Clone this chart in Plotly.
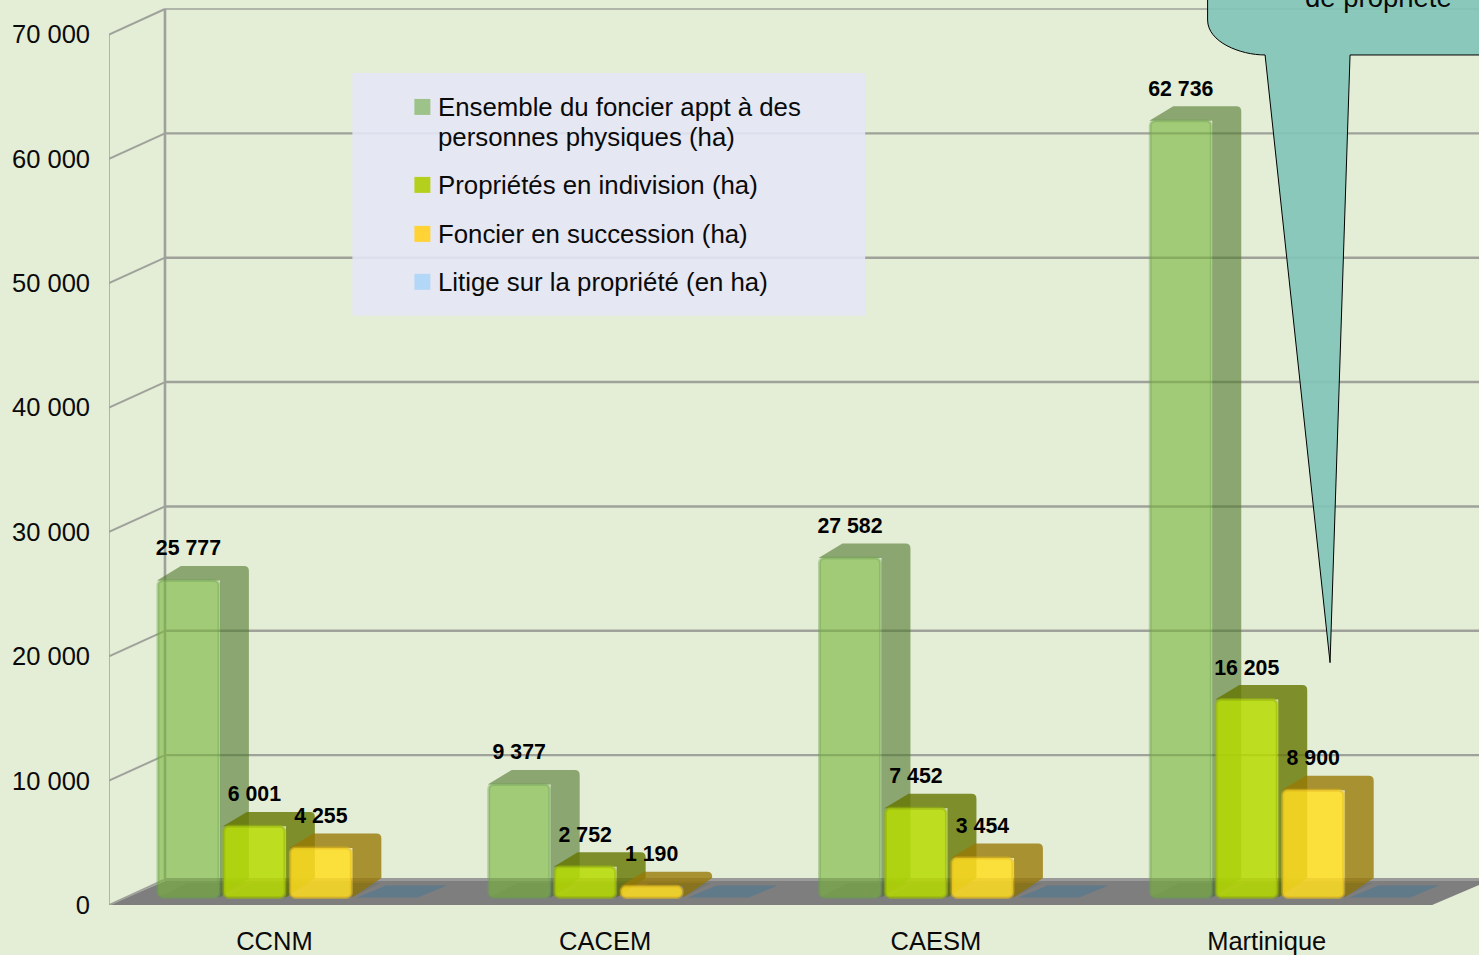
import plotly.graph_objects as go

# ---------- data ----------
categories = ["CCNM", "CACEM", "CAESM", "Martinique"]
series_names = [
    "Ensemble du foncier appt à des personnes physiques (ha)",
    "Propriétés en indivision (ha)",
    "Foncier en succession (ha)",
    "Litige sur la propriété (en ha)",
]
ensemble = [25777, 9377, 27582, 62736]
indivision = [6001, 2752, 7452, 16205]
succession = [4255, 1190, 3454, 8900]
litige = [0, 0, 0, 0]
y_ticks = [0, 10000, 20000, 30000, 40000, 50000, 60000, 70000]
all_series = [ensemble, indivision, succession, litige]

# ---------- styles ----------
FRONT = ["rgba(119,180,57,0.6)", "rgba(182,219,0,0.85)", "rgba(255,221,33,0.85)", "rgba(63,117,153,0.45)"]
EDGE = ["rgba(110,160,80,0.4)", "rgba(150,180,10,0.55)", "rgba(225,185,30,0.55)", "rgba(0,0,0,0)"]
SIDE = ["rgba(80,118,43,0.6)", "rgba(100,117,0,0.8)", "rgba(152,121,6,0.8)", "rgba(63,117,153,0.45)"]
SWATCH = ["#9dc28a", "#b5d01c", "#ffd235", "#b3d7f7"]
BG = "#e4edd6"
GRID = "#9fa29a"
FONT = "Liberation Sans"

# ---------- scale of the page (px per axis unit) ----------
W, H = 1479, 955
L, B = 108.5, 49.5
PX_X = 330.9                # px per category
PX_Y = 871 / 70000          # px per hectare
x_range = [-0.5, -0.5 + (W - L) / PX_X]
y_range = [0, (H - B) / PX_Y]

ux = lambda px: px / PX_X
uy = lambda px: px / PX_Y

WALL_DX, WALL_DY = ux(56), uy(25.5)    # depth of the floor
BAR_DX, BAR_DY = ux(29), uy(14.5)      # depth of a bar
INSET_Y = uy(7.5)                      # bar inset from floor front
BEVEL = uy(3.5)                        # the soft top bevel of the front face
BAR_W = ux(61)
SER_OFFS = [ux(-86), ux(-20), ux(46.5), ux(113)]


def poly(points, **kw):
    path = "M " + " L ".join(f"{x:.5f},{y:.2f}" for x, y in points) + " Z"
    return dict(type="path", xref="x", yref="y", path=path, line=dict(width=0), **kw)


def rounded_box(x0, x1, base, top, r_x, r_y):
    """Top face and side face as one outline, with a rounded back-top corner."""
    return (
        f"M {x0:.5f},{top:.2f} L {x0 + BAR_DX - r_x:.5f},{top + BAR_DY:.2f} "
        f"L {x1 + BAR_DX - r_x:.5f},{top + BAR_DY:.2f} "
        f"Q {x1 + BAR_DX:.5f},{top + BAR_DY:.2f} {x1 + BAR_DX:.5f},{top + BAR_DY - r_y:.2f} "
        f"L {x1 + BAR_DX:.5f},{base + BAR_DY + r_y:.2f} "
        f"L {x1:.5f},{base:.2f} L {x1:.5f},{top:.2f} Z"
    )


shapes = []
# floor
floor_dy = uy(24)
shapes.append(poly([(x_range[0], 0), (x_range[0] + 4, 0),
                    (x_range[0] + 4 + WALL_DX, floor_dy),
                    (x_range[0] + WALL_DX, floor_dy)],
                   fillcolor="#7e7e7e", layer="below"))
shapes.append(dict(type="line", xref="x", yref="y", x0=x_range[0] + WALL_DX, x1=x_range[1] + 1,
                   y0=WALL_DY, y1=WALL_DY,
                   line=dict(color="#9a9a9a", width=3), layer="below"))
# walls and grid, from the tick values
for t in y_ticks:
    if t > 0:
        shapes.append(dict(type="line", xref="x", yref="y", x0=x_range[0] + WALL_DX, x1=x_range[1],
                           y0=t + WALL_DY, y1=t + WALL_DY,
                           line=dict(color=GRID, width=1.3 if t == y_ticks[-1] else 2.4), layer="below"))
    shapes.append(dict(type="line", xref="x", yref="y", x0=x_range[0], x1=x_range[0] + WALL_DX,
                       y0=t, y1=t + WALL_DY, line=dict(color=GRID, width=2), layer="below"))
shapes.append(dict(type="line", xref="x", yref="y", x0=x_range[0] + WALL_DX, x1=x_range[0] + WALL_DX,
                   y0=WALL_DY, y1=y_ticks[-1] + WALL_DY, line=dict(color=GRID, width=2.6), layer="below"))
shapes.append(dict(type="line", xref="x", yref="y", x0=x_range[0], x1=x_range[0],
                   y0=0, y1=y_ticks[-1], line=dict(color=GRID, width=1.5), layer="below"))

# depth faces of each bar, from the values
for s, vals in enumerate(all_series):
    for i, v in enumerate(vals):
        x0 = i + SER_OFFS[s] - BAR_W / 2
        x1 = x0 + BAR_W
        if v > 0:
            shapes.append(dict(type="path", xref="x", yref="y", layer="below", line=dict(width=0),
                               fillcolor=SIDE[s],
                               path=rounded_box(x0 - ux(1), x1 + ux(1), INSET_Y, INSET_Y + v - BEVEL, ux(5), uy(5))))
            shapes.append(poly([(x0, INSET_Y), (x1, INSET_Y), (x1 + BAR_DX, INSET_Y + BAR_DY),
                                (x0 + BAR_DX, INSET_Y + BAR_DY)],
                               fillcolor="rgba(60,70,40,0.12)", layer="below"))
        else:
            shapes.append(poly([(x0, INSET_Y), (x1, INSET_Y), (x1 + BAR_DX, INSET_Y + uy(12)),
                                (x0 + BAR_DX, INSET_Y + uy(12))],
                               fillcolor=SIDE[s], layer="below"))


# ---------- decorations placed on the page ----------
px = lambda v: (v - L) / (W - L)
py = lambda v: (H - B - v) / (H - B)

# legend panel
shapes.append(dict(type="rect", xref="paper", yref="paper", x0=px(352), x1=px(865), y0=py(316), y1=py(73),
                   fillcolor="rgba(228,230,245,0.9)", line=dict(width=0), layer="above"))
legend_rows = [
    (107, SWATCH[0], ["Ensemble du foncier appt à des", "personnes physiques (ha)"]),
    (185, SWATCH[1], [series_names[1]]),
    (234, SWATCH[2], [series_names[2]]),
    (282, SWATCH[3], [series_names[3]]),
]
annotations = []
for y, col, lines in legend_rows:
    shapes.append(dict(type="rect", xref="paper", yref="paper", x0=px(414), x1=px(430), y0=py(y + 8), y1=py(y - 8),
                       fillcolor=col, line=dict(width=0), layer="above"))
    for k, txt in enumerate(lines):
        annotations.append(dict(xref="paper", yref="paper", x=px(436), y=py(y + 30 * k), text=txt,
                                xanchor="left", yanchor="middle", showarrow=False,
                                font=dict(family=FONT, size=25.8, color="#0a0a0a")))

# callout
shapes.append(dict(type="path", xref="paper", yref="paper", layer="above",
                   fillcolor="rgba(130,196,185,0.92)", line=dict(color="#000000", width=1),
                   path=(f"M {px(1207.5)},{py(-20)} L {px(1207.5)},{py(20)} "
                         f"C {px(1207.5)},{py(42)} {px(1240)},{py(55)} {px(1265)},{py(55)} "
                         f"L {px(1330)},{py(663)} L {px(1350)},{py(55)} L {px(1520)},{py(55)} "
                         f"L {px(1520)},{py(-20)} Z")))
annotations.append(dict(xref="paper", yref="paper", x=px(1378), y=py(-3), text="de propriété",
                        xanchor="center", yanchor="middle", showarrow=False,
                        font=dict(family=FONT, size=27.5, color="#0a0a0a")))

# ---------- traces ----------
fig = go.Figure()
for s, vals in enumerate(all_series):
    fig.add_trace(go.Bar(
        x=[i + SER_OFFS[s] for i in range(len(categories))],
        y=[max(v - BEVEL, 0) for v in vals], base=INSET_Y, width=BAR_W, name=series_names[s],
        marker=dict(color=FRONT[s], cornerradius=5,
                    line=dict(color=EDGE[s], width=3 if s < 3 else 0)),
        showlegend=False, hoverinfo="name",
    ))

fmt = lambda v: f"{v:,}".replace(",", " ")
for s, vals in enumerate(all_series[:3]):
    fig.add_trace(go.Scatter(
        x=[i + SER_OFFS[s] for i in range(len(categories))],
        y=[INSET_Y + v + uy(26.8) for v in vals],
        mode="text", text=[fmt(v) for v in vals], textposition="middle center",
        textfont=dict(family=FONT, size=21.3, color="#000000", weight="bold"),
        showlegend=False, hoverinfo="skip", cliponaxis=False,
    ))

fig.update_layout(
    width=W, height=H, autosize=False,
    margin=dict(l=L, r=0, t=0, b=B, pad=0),
    paper_bgcolor=BG, plot_bgcolor=BG,
    barmode="overlay", showlegend=False,
    font=dict(family=FONT, size=25, color="#0a0a0a"),
    shapes=shapes, annotations=annotations,
    xaxis=dict(range=x_range, tickvals=list(range(len(categories))), ticktext=categories,
               showgrid=False, zeroline=False, showline=False, ticks="",
               ticklabelstandoff=18, tickfont=dict(family=FONT, size=25.5, color="#0a0a0a")),
    yaxis=dict(range=y_range, tickvals=y_ticks, ticktext=[fmt(t) for t in y_ticks],
               showgrid=False, zeroline=False, showline=False, ticks="",
               ticklabelstandoff=18, tickfont=dict(family=FONT, size=25.5, color="#0a0a0a")),
)

fig.write_html("out.html", config=dict(displayModeBar=False),
               post_script="document.body.style.margin='0';document.body.style.overflow='hidden';")
